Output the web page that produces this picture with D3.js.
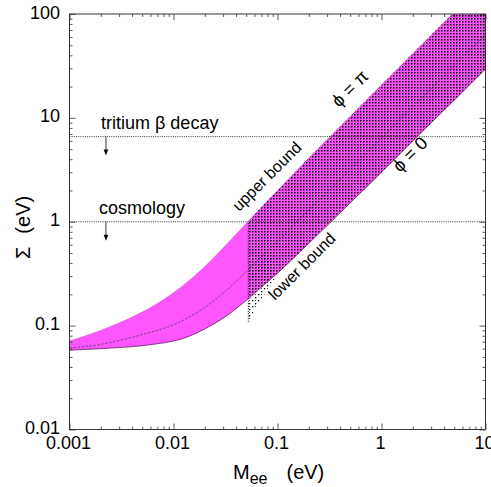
<!DOCTYPE html>
<html><head><meta charset="utf-8">
<script src="https://cdn.jsdelivr.net/npm/d3@7"></script>
<style>
html,body{margin:0;padding:0;background:#fff;}
text{font-family:"Liberation Sans",Arial,Helvetica,sans-serif;}
</style></head>
<body><svg id="c" width="491" height="487"></svg>
<script>
// ---- data ----
const Mee     = [0.001,0.002,0.003,0.005,0.007,0.01,0.015,0.02,0.03,0.05,0.07,0.1,0.2,0.5,1,2,5,10];
const lowerS  = [0.058,0.060,0.0615,0.064,0.067,0.071,0.081,0.093,0.118,0.175,0.235,0.32,0.62,1.52,3.0,6.0,14.8,29.5];
const middleS = [0.061,0.066,0.072,0.082,0.090,0.102,0.125,0.150,0.205,0.33,0.46,0.65,1.29,3.2,6.4,12.8,32,64];
const upperS  = [0.071,0.090,0.106,0.135,0.163,0.207,0.285,0.37,0.56,0.96,1.38,2.0,4.1,10.3,20.7,41.5,104,208];
const dotStartM = 0.0524;
const fringeM = [0.0524,0.06,0.07,0.08,0.09,0.1];
const fringeS = [0.109,0.14,0.18,0.22,0.265,0.32];
const limits = [{name:"tritium \u03b2 decay", value:6.6},{name:"cosmology", value:1.0}];
const arrowM = 0.00224;
const xTickLabels = ["0.001","0.01","0.1","1","10"];
const yTickLabels = ["0.01","0.1","1","10","100"];

const svg = d3.select("#c");
const x = d3.scaleLog().domain([0.001,10]).range([69.5,485.5]);
const y = d3.scaleLog().domain([0.01,100]).range([429.5,14]);
const X0=69.5,X1=485.5,Y0=429.5,Y1=14;

const defs = svg.append("defs");
defs.append("clipPath").attr("id","plot").append("rect")
  .attr("x",X0).attr("y",Y1).attr("width",X1-X0).attr("height",Y0-Y1);
defs.append("clipPath").attr("id","dotclip").append("rect")
  .attr("x",x(dotStartM)).attr("y",Y1).attr("width",X1-x(dotStartM)).attr("height",Y0-Y1);
const pd = defs.append("pattern").attr("id","dense").attr("patternUnits","userSpaceOnUse")
  .attr("width",3).attr("height",3);
pd.append("rect").attr("x",0).attr("y",0).attr("width",1.5).attr("height",1.5).attr("fill","#000");
const ps = defs.append("pattern").attr("id","sparse").attr("patternUnits","userSpaceOnUse")
  .attr("width",6).attr("height",6);
ps.append("rect").attr("x",0).attr("y",0).attr("width",1.3).attr("height",1.3).attr("fill","#000");
ps.append("rect").attr("x",3).attr("y",3).attr("width",1.3).attr("height",1.3).attr("fill","#000");
ps.append("rect").attr("x",3).attr("y",0).attr("width",1).attr("height",1).attr("fill","#444");

const band = Mee.map((m,i)=>({m, lo:lowerS[i], mid:middleS[i], up:upperS[i]}));
const area = d3.area().x(d=>x(d.m)).y0(d=>y(d.lo)).y1(d=>y(d.up)).curve(d3.curveMonotoneX);
const g = svg.append("g").attr("clip-path","url(#plot)");
g.append("path").datum(band).attr("d",area).attr("fill","#ff55ff");

// sparse fringe below the band
const fr = fringeM.map((m,i)=>({m, s:fringeS[i]}));
g.append("g").attr("clip-path","url(#dotclip)").append("path").datum(fr)
  .attr("d", d3.area().x(d=>x(d.m)).y0(d=>y(d.s)).y1(y(0.5)).curve(d3.curveMonotoneX))
  .attr("fill","url(#sparse)");
// dense dots in the band
g.append("g").attr("clip-path","url(#dotclip)").append("path").datum(band)
  .attr("d",area).attr("fill","url(#dense)");

const line = k => d3.line().x(d=>x(d.m)).y(d=>y(d[k])).curve(d3.curveMonotoneX);
g.append("path").datum(band).attr("d",line("lo")).attr("fill","none").attr("stroke","#7a2a7a").attr("stroke-width",0.9);
g.append("path").datum(band).attr("d",line("up")).attr("fill","none").attr("stroke","#c050c0").attr("stroke-width",0.5);
g.append("path").datum(band).attr("d",line("mid")).attr("fill","none").attr("stroke","#5a3a6a")
  .attr("stroke-width",0.8).attr("stroke-dasharray","2.5,1.5");

// vertical dotted line
g.append("line").attr("x1",x(dotStartM)).attr("x2",x(dotStartM))
  .attr("y1",y(fringeS[0])).attr("y2",y(1.0)).attr("stroke","#000").attr("stroke-width",1)
  .attr("stroke-dasharray","1,1.5");

// limit lines
limits.forEach((L,i)=>{
  g.append("line").attr("x1",X0).attr("x2",X1).attr("y1",y(L.value)).attr("y2",y(L.value))
    .attr("stroke","#222").attr("stroke-width",0.9).attr("stroke-dasharray","1,1.2");
  const ax = x(arrowM), ay = y(L.value);
  svg.append("line").attr("x1",ax).attr("x2",ax).attr("y1",ay).attr("y2",ay+15)
    .attr("stroke","#000").attr("stroke-width",0.8);
  svg.append("path").attr("d",`M${ax-2.3},${ay+13} L${ax+2.3},${ay+13} L${ax},${ay+19} Z`).attr("fill","#000");
  svg.append("text").attr("x",i===0?101:99).attr("y",ay-7.5).attr("font-size",18).text(L.name);
});

// axes with ticks inside
function ticksFor(lo,hi){const maj=[],min=[];for(let e=lo;e<=hi;e++){const b=Math.pow(10,e);maj.push(b);if(e<hi)for(let k=2;k<=9;k++)min.push(k*b);}return {maj,min};}
const tx = ticksFor(-3,1), ty = ticksFor(-2,2);
const axCol="#333";
function drawAxis(axisFn, scale, vals, size, tr){
  const a = svg.append("g").attr("transform",tr).call(axisFn(scale).tickValues(vals).tickSize(size).tickFormat(""));
  a.select(".domain").remove();
  a.selectAll("line").attr("stroke",axCol).attr("stroke-width",0.8);
  return a;
}
drawAxis(d3.axisBottom,x,tx.maj,-6,`translate(0,${Y0})`);
drawAxis(d3.axisBottom,x,tx.min,-3,`translate(0,${Y0})`);
drawAxis(d3.axisTop,x,tx.maj,-6,`translate(0,${Y1})`);
drawAxis(d3.axisTop,x,tx.min,-3,`translate(0,${Y1})`);
drawAxis(d3.axisLeft,y,ty.maj,-6,`translate(${X0},0)`);
drawAxis(d3.axisLeft,y,ty.min,-3,`translate(${X0},0)`);
drawAxis(d3.axisRight,y,ty.maj,-6,`translate(${X1},0)`);
drawAxis(d3.axisRight,y,ty.min,-3,`translate(${X1},0)`);
svg.append("rect").attr("x",X0).attr("y",Y1).attr("width",X1-X0).attr("height",Y0-Y1)
  .attr("fill","none").attr("stroke",axCol).attr("stroke-width",1);

tx.maj.forEach((v,i)=>svg.append("text").attr("x",x(v)-1).attr("y",Y0+19.5).attr("text-anchor","middle")
  .attr("font-size",18).text(xTickLabels[i]));
ty.maj.forEach((v,i)=>svg.append("text").attr("x",X0-9.5).attr("y",y(v)+4.5).attr("text-anchor","end")
  .attr("font-size",18).text(yTickLabels[i]));

// axis titles
const xt = svg.append("text").attr("x",233).attr("y",479).attr("font-size",20);
xt.append("tspan").text("M");
xt.append("tspan").attr("font-size",16).attr("dy",5).text("ee");
xt.append("tspan").attr("dy",-5).attr("dx",19).text("(eV)");
const yt = svg.append("text").attr("transform","translate(30,259) rotate(-90)").attr("font-size",20);
yt.append("tspan").text("\u03a3");
yt.append("tspan").attr("dx",13).text("(eV)");

// curve labels
function rlabel(t,px,py,fs){svg.append("text").attr("transform",`translate(${px},${py}) rotate(-45)`).attr("font-size",fs).text(t);}
rlabel("upper bound",239,212,16);
rlabel("lower bound",275,301,16);
rlabel("\u03d5 = \u03c0",339,108,18);
rlabel("\u03d5 = 0",400,173,18);
</script></body></html>
